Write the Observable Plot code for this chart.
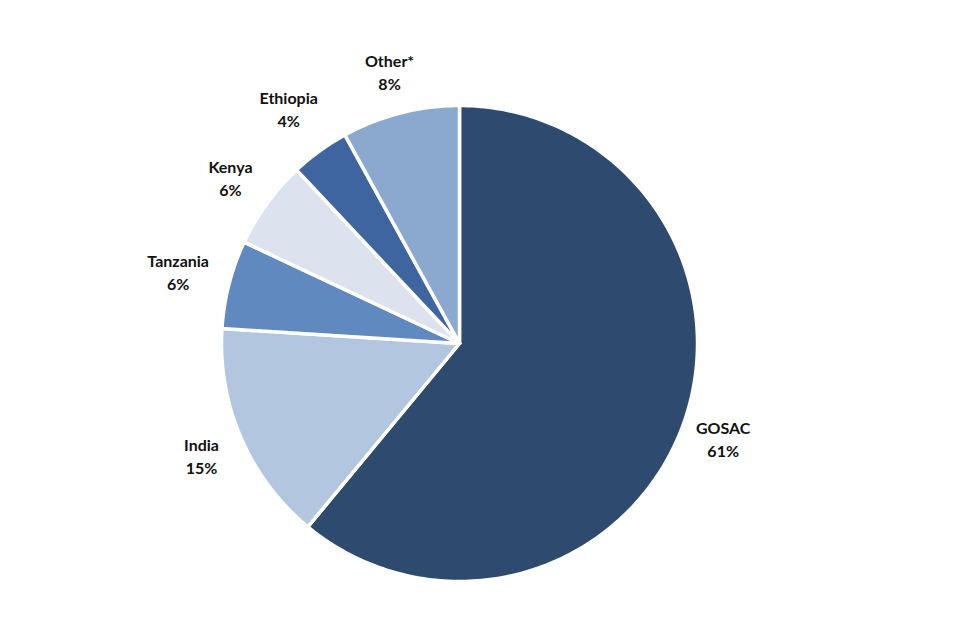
<!DOCTYPE html>
<html>
<head>
<meta charset="utf-8">
<script src="https://cdn.jsdelivr.net/npm/d3@7"></script>
<script src="https://cdn.jsdelivr.net/npm/@observablehq/plot@0.6"></script>
<style>
  html, body { margin: 0; padding: 0; background: #ffffff; }
  #chart { width: 960px; height: 640px; }
</style>
</head>
<body>
<div id="chart"></div>
<script>
// Data (clockwise from 12 o'clock)
const categories = ["GOSAC", "India", "Tanzania", "Kenya", "Ethiopia", "Other*"];
const shares = [61, 15, 6, 6, 4, 8];
const percentLabels = ["61%", "15%", "6%", "6%", "4%", "8%"];
const sliceColors = ["#2E4A6E", "#B3C6E0", "#5F89BF", "#DCE3EF", "#3E65A0", "#8BA8CF"];

// Layout
const W = 960, H = 640;
const cx = 459, cy = 343, R = 238;

const total = d3.sum(shares);
let acc = 0;
const slices = categories.map((name, i) => {
  const a0 = acc / total * 2 * Math.PI;
  acc += shares[i];
  const a1 = acc / total * 2 * Math.PI;
  return {name, value: shares[i], label: percentLabels[i], color: sliceColors[i], a0, a1};
});

// Polygon points for each slice (angle measured clockwise from top)
const polyPts = [];
slices.forEach(s => {
  polyPts.push({name: s.name, color: s.color, x: cx, y: cy});
  const n = Math.max(8, Math.ceil((s.a1 - s.a0) / (Math.PI / 180)));
  for (let k = 0; k <= n; k++) {
    const a = s.a0 + (s.a1 - s.a0) * k / n;
    polyPts.push({name: s.name, color: s.color, x: cx + R * Math.sin(a), y: cy - R * Math.cos(a)});
  }
  polyPts.push({name: s.name, color: s.color, x: cx, y: cy});
});

// Label positions (outside end, bounding-box aware)
const labelPts = slices.map(s => {
  const m = (s.a0 + s.a1) / 2;
  const dx = Math.sin(m), dy = -Math.cos(m);
  const w = s.name.length * 8, h = 44;
  const r = 254 + Math.abs(dx) * w / 2 + Math.abs(dy) * h / 2;
  return {text: s.name + "\n" + s.label, x: cx + r * dx, y: cy + r * dy};
});

const chart = Plot.plot({
  width: W,
  height: H,
  margin: 0,
  x: {domain: [0, W], range: [0, W], axis: null},
  y: {domain: [0, H], range: [0, H], axis: null},
  style: {background: "#ffffff"},
  marks: [
    Plot.line(polyPts, {
      x: "x", y: "y", z: "name",
      fill: d => d.color,
      stroke: "#ffffff",
      strokeWidth: 3.5,
      strokeLinejoin: "round",
      curve: "linear"
    }),
    Plot.text(labelPts, {
      x: "x", y: "y", text: "text",
      fontSize: 16,
      fontWeight: 700,
      fontFamily: "Lato, 'Open Sans', sans-serif",
      fill: "#111111",
      lineHeight: 1.42,
      textAnchor: "middle"
    })
  ]
});

document.getElementById("chart").appendChild(chart);
</script>
</body>
</html>
